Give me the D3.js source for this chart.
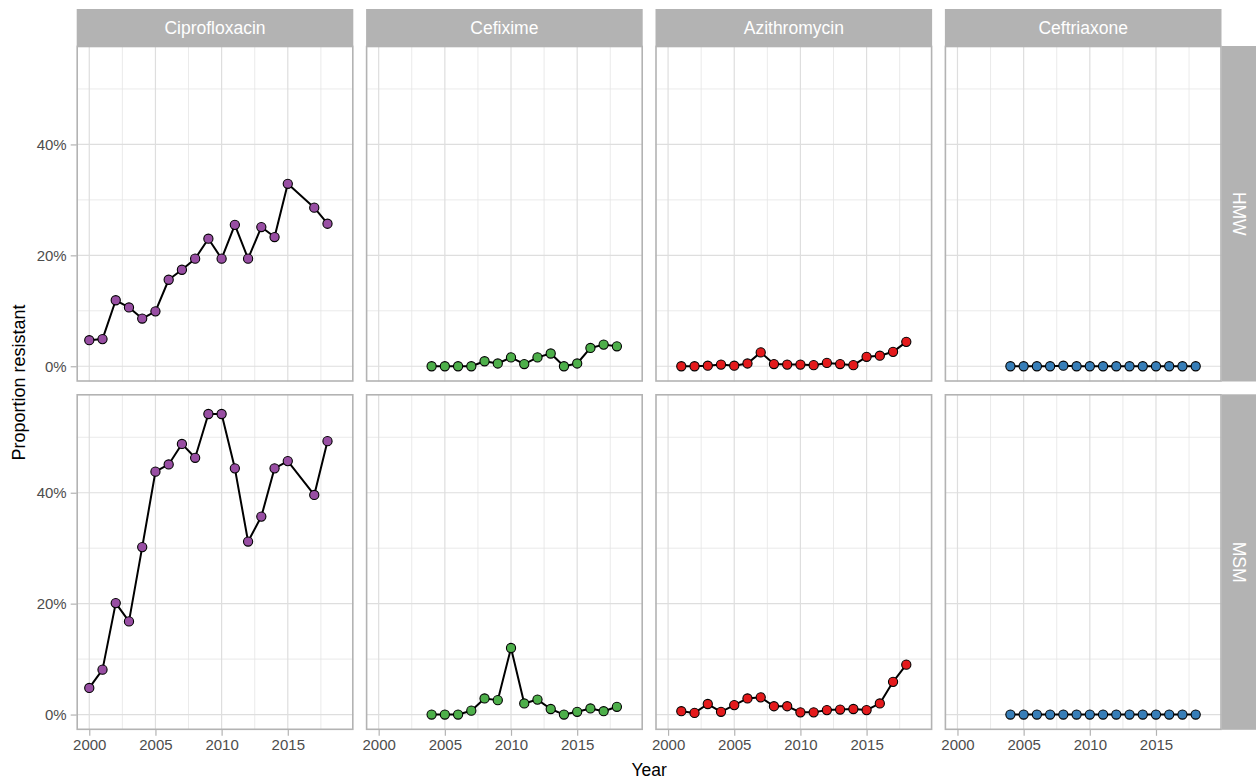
<!DOCTYPE html>
<html>
<head>
<meta charset="utf-8">
<script src="https://cdn.jsdelivr.net/npm/d3@7"></script>
<style>
  html, body { margin: 0; padding: 0; background: #fff; }
  svg { display: block; font-family: "Liberation Sans", Arial, Helvetica, sans-serif; }
</style>
</head>
<body>
<svg id="chart" width="1256" height="779"></svg>
<script>
// Facet columns and rows
const antibiotics = ["Ciprofloxacin", "Cefixime", "Azithromycin", "Ceftriaxone"];
const groups = ["HMW", "MSM"];
const colours = ["#984EA3", "#4DAF4A", "#E41A1C", "#377EB8"];

// Proportion resistant per year
const ciproYears = [2000, 2001, 2002, 2003, 2004, 2005, 2006, 2007, 2008, 2009, 2010, 2011, 2012, 2013, 2014, 2015, 2017, 2018];
const ciproHMW = [0.047, 0.049, 0.119, 0.106, 0.086, 0.099, 0.156, 0.174, 0.194, 0.230, 0.194, 0.255, 0.194, 0.251, 0.233, 0.329, 0.286, 0.257];
const ciproMSM = [0.048, 0.081, 0.201, 0.168, 0.302, 0.438, 0.451, 0.488, 0.463, 0.542, 0.542, 0.444, 0.312, 0.357, 0.444, 0.457, 0.396, 0.493];

const cefiximeYears = [2004, 2005, 2006, 2007, 2008, 2009, 2010, 2011, 2012, 2013, 2014, 2015, 2016, 2017, 2018];
const cefiximeHMW = [0.000, 0.000, 0.000, 0.000, 0.009, 0.005, 0.016, 0.004, 0.016, 0.023, 0.000, 0.005, 0.033, 0.039, 0.036];
const cefiximeMSM = [0.000, 0.000, 0.000, 0.007, 0.029, 0.026, 0.120, 0.020, 0.027, 0.010, 0.000, 0.005, 0.011, 0.006, 0.014];

const azithroYears = [2001, 2002, 2003, 2004, 2005, 2006, 2007, 2008, 2009, 2010, 2011, 2012, 2013, 2014, 2015, 2016, 2017, 2018];
const azithroHMW = [0.000, 0.000, 0.001, 0.003, 0.001, 0.005, 0.025, 0.004, 0.003, 0.003, 0.002, 0.006, 0.004, 0.002, 0.017, 0.019, 0.026, 0.044];
const azithroMSM = [0.006, 0.003, 0.019, 0.005, 0.017, 0.029, 0.031, 0.015, 0.015, 0.004, 0.004, 0.008, 0.009, 0.010, 0.008, 0.020, 0.059, 0.090];

const ceftriaxoneYears = [2004, 2005, 2006, 2007, 2008, 2009, 2010, 2011, 2012, 2013, 2014, 2015, 2016, 2017, 2018];
const ceftriaxoneHMW = [0, 0, 0, 0, 0.001, 0, 0, 0, 0, 0, 0, 0, 0, 0, 0];
const ceftriaxoneMSM = [0, 0, 0, 0, 0, 0, 0, 0, 0, 0, 0, 0, 0, 0, 0];

// Axis ticks
const xTicks = [2000, 2005, 2010, 2015];
const xMinor = [2002.5, 2007.5, 2012.5, 2017.5];
const yTicks = [0, 0.2, 0.4];
const yMinor = [0.1, 0.3, 0.5];

const seriesTable = {
  Ciprofloxacin: { years: ciproYears, HMW: ciproHMW, MSM: ciproMSM },
  Cefixime: { years: cefiximeYears, HMW: cefiximeHMW, MSM: cefiximeMSM },
  Azithromycin: { years: azithroYears, HMW: azithroHMW, MSM: azithroMSM },
  Ceftriaxone: { years: ceftriaxoneYears, HMW: ceftriaxoneHMW, MSM: ceftriaxoneMSM }
};

// Layout
const panelLeft = 76.7, panelW = 276.6, colStep = 289.4;
const panelTops = [46, 394.3], panelH = 335.5;
const stripTop = 9, stripH = 37, rightStripW = 34.5;

const svg = d3.select("#chart");

const x = d3.scaleLinear().domain([1999.05, 2019.95]).range([0, panelW]);
const y = d3.scaleLinear().domain([-0.0275, 0.5775]).range([panelH, 0]);
const pct = d3.format(".0%");

antibiotics.forEach((drug, c) => {
  const px = panelLeft + c * colStep;

  // column strip
  svg.append("rect").attr("x", px).attr("y", stripTop).attr("width", panelW).attr("height", stripH)
    .attr("fill", "#B3B3B3");
  svg.append("text").attr("x", px + panelW / 2).attr("y", stripTop + stripH / 2)
    .attr("dy", "0.35em").attr("text-anchor", "middle").attr("fill", "#FFFFFF")
    .style("font-size", "17.5px").text(drug);

  groups.forEach((grp, r) => {
    const py = panelTops[r];
    const g = svg.append("g").attr("transform", `translate(${px},${py})`);

    g.append("rect").attr("width", panelW).attr("height", panelH).attr("fill", "#FFFFFF");

    // grid
    g.selectAll(".ymin").data(yMinor).join("line")
      .attr("x1", 0).attr("x2", panelW).attr("y1", d => y(d)).attr("y2", d => y(d))
      .attr("stroke", "#E4E4E4").attr("stroke-width", 0.8);
    g.selectAll(".xmin").data(xMinor).join("line")
      .attr("y1", 0).attr("y2", panelH).attr("x1", d => x(d)).attr("x2", d => x(d))
      .attr("stroke", "#E4E4E4").attr("stroke-width", 0.8);
    g.selectAll(".ymaj").data(yTicks).join("line")
      .attr("x1", 0).attr("x2", panelW).attr("y1", d => y(d)).attr("y2", d => y(d))
      .attr("stroke", "#DEDEDE").attr("stroke-width", 1.2);
    g.selectAll(".xmaj").data(xTicks).join("line")
      .attr("y1", 0).attr("y2", panelH).attr("x1", d => x(d)).attr("x2", d => x(d))
      .attr("stroke", "#DEDEDE").attr("stroke-width", 1.2);

    // series
    const s = seriesTable[drug];
    const pts = s.years.map((yr, i) => ({ year: yr, value: s[grp][i] }));
    const line = d3.line().x(d => x(d.year)).y(d => y(d.value));
    g.append("path").datum(pts).attr("d", line)
      .attr("fill", "none").attr("stroke", "#000").attr("stroke-width", 2).attr("stroke-linejoin", "round");
    g.selectAll("circle").data(pts).join("circle")
      .attr("cx", d => x(d.year)).attr("cy", d => y(d.value)).attr("r", 4.6)
      .attr("fill", colours[c]).attr("stroke", "#000").attr("stroke-width", 1.1);

    // border
    g.append("rect").attr("x", 0.5).attr("y", 0.5).attr("width", panelW - 1).attr("height", panelH - 1)
      .attr("fill", "none").attr("stroke", "#B3B3B3").attr("stroke-width", 1.6);

    // axes on outer panels
    if (c === 0) {
      const ya = g.append("g").call(d3.axisLeft(y).tickValues(yTicks).tickFormat(pct).tickSize(6).tickPadding(4));
      ya.select(".domain").remove();
      ya.selectAll(".tick line").attr("stroke", "#B3B3B3").attr("stroke-width", 1.2);
      ya.selectAll(".tick text").attr("fill", "#4D4D4D").style("font-size", "15px")
        .style("font-family", "'Liberation Sans', Arial, sans-serif");
    }
    if (r === 1) {
      const xa = g.append("g").attr("transform", `translate(0,${panelH})`)
        .call(d3.axisBottom(x).tickValues(xTicks).tickFormat(d3.format("d")).tickSize(6).tickPadding(4));
      xa.select(".domain").remove();
      xa.selectAll(".tick line").attr("stroke", "#B3B3B3").attr("stroke-width", 1.2);
      xa.selectAll(".tick text").attr("fill", "#4D4D4D").style("font-size", "15px")
        .style("font-family", "'Liberation Sans', Arial, sans-serif");
    }
  });
});

// row strips
groups.forEach((grp, r) => {
  const sx = panelLeft + 3 * colStep + panelW;
  const py = panelTops[r];
  svg.append("rect").attr("x", sx).attr("y", py).attr("width", rightStripW).attr("height", panelH)
    .attr("fill", "#B3B3B3");
  svg.append("text")
    .attr("transform", `translate(${sx + rightStripW / 2},${py + panelH / 2}) rotate(90)`)
    .attr("dy", "0.35em").attr("text-anchor", "middle").attr("fill", "#FFFFFF")
    .style("font-size", "17.5px").text(grp);
});

// axis titles
svg.append("text").attr("x", panelLeft + (3 * colStep + panelW) / 2).attr("y", 775.7)
  .attr("text-anchor", "middle").attr("fill", "#000")
  .style("font-size", "17.5px").text("Year");
svg.append("text")
  .attr("transform", `translate(25,382.5) rotate(-90)`)
  .attr("text-anchor", "middle").attr("fill", "#000")
  .style("font-size", "18px").text("Proportion resistant");
</script>
</body>
</html>
